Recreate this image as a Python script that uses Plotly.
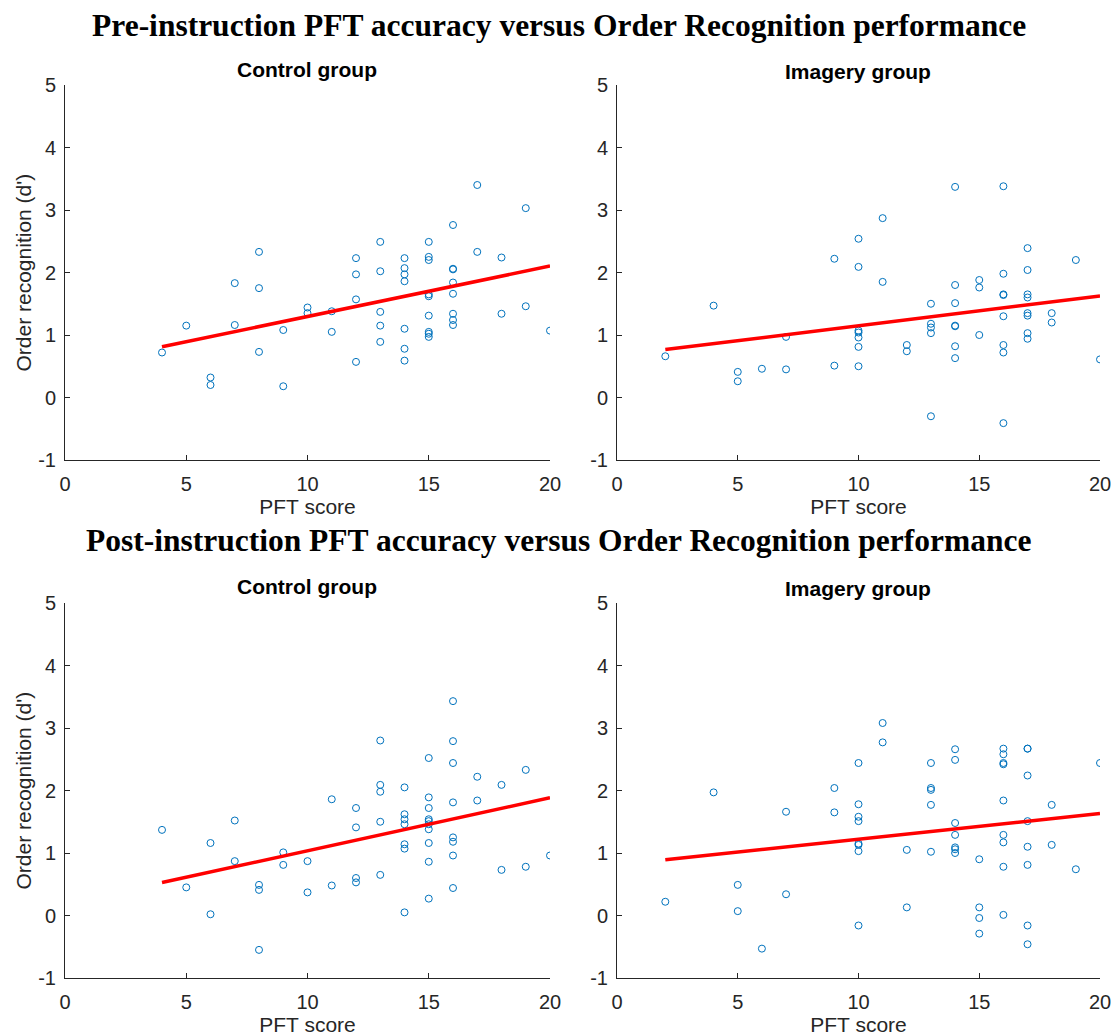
import numpy as np
import plotly.graph_objects as go

# ---------------- data ----------------
pre_control_x = [4, 5, 6, 6, 7, 7, 8, 8, 8, 9, 9, 10, 10,
                 11, 11, 12, 12, 12, 12, 13, 13, 13, 13, 13,
                 14, 14, 14, 14, 14, 14, 14,
                 15, 15, 15, 15, 15, 15, 15, 15, 15,
                 16, 16, 16, 16, 16, 16, 16, 16,
                 17, 17, 18, 18, 19, 19, 20]
pre_control_y = [0.72, 1.15, 0.32, 0.20, 1.83, 1.16, 2.33, 1.75, 0.73, 1.08, 0.18, 1.44, 1.35,
                 1.38, 1.05, 2.23, 1.97, 1.57, 0.57, 2.49, 2.02, 1.37, 1.15, 0.89,
                 2.23, 2.07, 1.97, 1.86, 1.10, 0.78, 0.59,
                 2.49, 2.25, 2.20, 1.65, 1.62, 1.31, 1.05, 1.02, 0.97,
                 2.76, 2.06, 2.05, 1.84, 1.66, 1.34, 1.24, 1.16,
                 3.40, 2.33, 2.24, 1.34, 3.03, 1.46, 1.07]

pre_imagery_x = [2, 4, 5, 5, 6, 7, 7, 9, 9,
                 10, 10, 10, 10, 10, 10, 10,
                 11, 11, 12, 12, 13, 13, 13, 13, 13,
                 14, 14, 14, 14, 14, 14, 14,
                 15, 15, 15,
                 16, 16, 16, 16, 16, 16, 16, 16,
                 17, 17, 17, 17, 17, 17, 17, 17,
                 18, 18, 19, 20]
pre_imagery_y = [0.66, 1.47, 0.41, 0.26, 0.46, 0.45, 0.97, 2.22, 0.51,
                 2.54, 2.09, 1.07, 1.04, 0.96, 0.81, 0.50,
                 2.87, 1.85, 0.84, 0.74, 1.50, 1.18, 1.12, 1.03, -0.30,
                 3.37, 1.80, 1.51, 1.15, 1.14, 0.82, 0.63,
                 1.88, 1.76, 1.00,
                 3.38, 1.98, 1.65, 1.64, 1.30, 0.84, 0.72, -0.41,
                 2.39, 2.04, 1.65, 1.60, 1.35, 1.31, 1.03, 0.94,
                 1.35, 1.20, 2.20, 0.61]

post_control_x = [4, 5, 6, 6, 7, 7, 8, 8, 8, 9, 9, 10, 10,
                  11, 11, 12, 12, 12, 12, 13, 13, 13, 13, 13,
                  14, 14, 14, 14, 14, 14, 14,
                  15, 15, 15, 15, 15, 15, 15, 15, 15, 15,
                  16, 16, 16, 16, 16, 16, 16, 16,
                  17, 17, 18, 18, 19, 19, 20]
post_control_y = [1.37, 0.45, 1.16, 0.02, 1.52, 0.87, 0.49, 0.41, -0.55, 1.01, 0.81, 0.87, 0.37,
                  1.86, 0.48, 1.72, 1.41, 0.60, 0.53, 2.80, 2.09, 1.98, 1.50, 0.65,
                  2.05, 1.62, 1.54, 1.46, 1.14, 1.07, 0.05,
                  2.52, 1.89, 1.72, 1.54, 1.51, 1.46, 1.38, 1.16, 0.86, 0.27,
                  3.43, 2.79, 2.44, 1.81, 1.25, 1.18, 0.96, 0.44,
                  2.22, 1.84, 2.09, 0.73, 2.33, 0.78, 0.96]

post_imagery_x = [2, 4, 5, 5, 6, 7, 7, 9, 9,
                  10, 10, 10, 10, 10, 10, 10, 10,
                  11, 11, 12, 12, 13, 13, 13, 13, 13,
                  14, 14, 14, 14, 14, 14, 14,
                  15, 15, 15, 15,
                  16, 16, 16, 16, 16, 16, 16, 16, 16,
                  17, 17, 17, 17, 17, 17, 17, 17,
                  18, 18, 19, 20]
post_imagery_y = [0.22, 1.97, 0.49, 0.07, -0.53, 1.66, 0.34, 2.04, 1.65,
                  2.44, 1.78, 1.58, 1.51, 1.15, 1.13, 1.03, -0.16,
                  3.08, 2.77, 1.05, 0.13, 2.44, 2.04, 2.01, 1.77, 1.02,
                  2.66, 2.49, 1.48, 1.29, 1.09, 1.06, 1.00,
                  0.90, 0.13, -0.04, -0.29,
                  2.58, 2.44, 2.42, 1.84, 1.29, 1.17, 0.78, 0.01, 2.67,
                  2.67, 2.24, 1.51, 1.10, 0.81, -0.16, -0.46, 2.67,
                  1.77, 1.13, 0.74, 2.44]

x_ticks = [0, 5, 10, 15, 20]
x_tick_labels = ["0", "5", "10", "15", "20"]
y_ticks = [-1, 0, 1, 2, 3, 4, 5]
y_tick_labels = ["-1", "0", "1", "2", "3", "4", "5"]

main_titles = ["Pre-instruction PFT accuracy versus Order Recognition performance",
               "Post-instruction PFT accuracy versus Order Recognition performance"]
panel_titles = ["Control group", "Imagery group"]
x_label = "PFT score"
y_label = "Order recognition (d')"

# ---------------- figure ----------------
W, H = 1117, 1036
fig = go.Figure()

panels = [
    (pre_control_x, pre_control_y, (65, 550), (85, 460)),
    (pre_imagery_x, pre_imagery_y, (617, 1100), (85, 460)),
    (post_control_x, post_control_y, (65, 550), (603, 978)),
    (post_imagery_x, post_imagery_y, (617, 1100), (603, 978)),
]

axis_color = "#262626"
tick_font = dict(family="Liberation Sans, Arial, sans-serif", size=20, color=axis_color)
label_font = dict(family="Liberation Sans, Arial, sans-serif", size=21, color=axis_color)

annotations = []

for i, (xs, ys, (x0, x1), (y0, y1)) in enumerate(panels):
    n = i + 1
    xa = "x" if n == 1 else f"x{n}"
    ya = "y" if n == 1 else f"y{n}"
    fig.add_trace(go.Scatter(
        x=xs, y=ys, mode="markers", xaxis=xa, yaxis=ya,
        marker=dict(symbol="circle-open", size=7, color="#0072BD",
                    line=dict(width=1, color="#0072BD")),
        showlegend=False, hoverinfo="skip"))
    slope, inter = np.polyfit(np.array(xs, float), np.array(ys, float), 1)
    lx = np.array([min(xs), max(xs)], float)
    fig.add_trace(go.Scatter(
        x=lx, y=slope * lx + inter, mode="lines", xaxis=xa, yaxis=ya,
        line=dict(color="#FF0000", width=3.5), showlegend=False, hoverinfo="skip"))

    xkey = "xaxis" if n == 1 else f"xaxis{n}"
    ykey = "yaxis" if n == 1 else f"yaxis{n}"
    fig.layout[xkey] = dict(
        domain=[x0 / W, x1 / W], range=[0, 20], anchor=ya, automargin=False,
        tickvals=x_ticks, ticktext=x_tick_labels, ticks="inside", ticklen=5,
        tickcolor=axis_color, showline=True, linecolor=axis_color, linewidth=1,
        showgrid=False, zeroline=False, tickfont=tick_font, ticklabelstandoff=6,
        title=dict(text=x_label, font=label_font, standoff=3))
    fig.layout[ykey] = dict(
        domain=[1 - y1 / H, 1 - y0 / H], range=[-1, 5], anchor=xa, automargin=False,
        tickvals=y_ticks, ticktext=y_tick_labels, ticks="inside", ticklen=5,
        tickcolor=axis_color, showline=True, linecolor=axis_color, linewidth=1,
        showgrid=False, zeroline=False, tickfont=tick_font, ticklabelstandoff=4)
    if n in (1, 3):
        annotations.append(dict(
            text=y_label, textangle=-90, x=23 / W, y=1 - ((y0 + y1) / 2) / H,
            xref="paper", yref="paper", showarrow=False,
            xanchor="center", yanchor="middle", font=label_font))

for k, ypx in enumerate([25, 540]):
    annotations.append(dict(
        text="<b>" + main_titles[k] + "</b>", x=0.5, y=1 - ypx / H,
        xref="paper", yref="paper", showarrow=False, xanchor="center", yanchor="middle",
        font=dict(family="Liberation Serif, Times New Roman, serif", size=31.5, color="black")))
for (cx, ypx, txt) in [(307, 70, panel_titles[0]), (858, 72, panel_titles[1]),
                       (307, 586, panel_titles[0]), (858, 588, panel_titles[1])]:
    annotations.append(dict(
        text="<b>" + txt + "</b>", x=cx / W, y=1 - ypx / H,
        xref="paper", yref="paper", showarrow=False, xanchor="center", yanchor="middle",
        font=dict(family="Liberation Sans, Arial, sans-serif", size=21, color="black")))

fig.update_layout(
    width=W, height=H, margin=dict(l=0, r=0, t=0, b=0),
    paper_bgcolor="white", plot_bgcolor="white",
    annotations=annotations)

fig.write_html("out.html")
